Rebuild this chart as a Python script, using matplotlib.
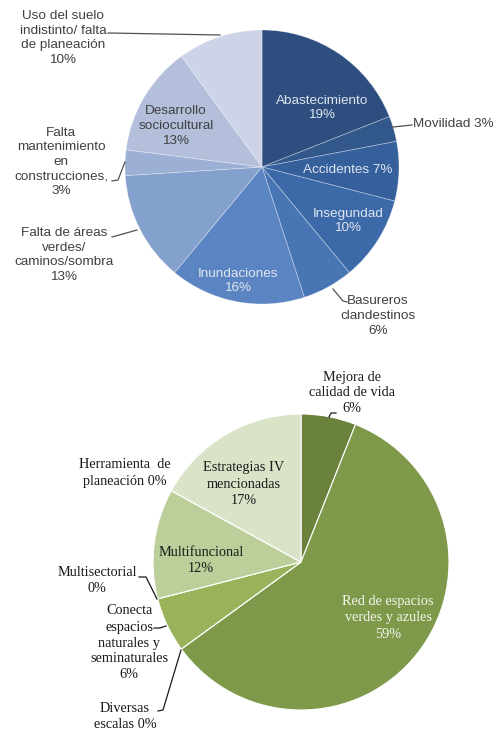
import matplotlib
matplotlib.use("Agg")
import matplotlib.pyplot as plt
import numpy as np

# ---------------- data ----------------
top_labels = ["Abastecimiento", "Movilidad", "Accidentes", "Insegundad",
              "Basureros\nclandestinos", "Inundaciones",
              "Falta de áreas\nverdes/\ncaminos/sombra",
              "Falta\nmantenimiento\nen\nconstrucciones,",
              "Desarrollo\nsociocultural",
              "Uso del suelo\nindistinto/ falta\nde planeación"]
top_values = [19, 3, 7, 10, 6, 16, 13, 3, 13, 10]

bot_labels = ["Mejora de\ncalidad de vida", "Red de espacios\nverdes y azules",
              "Diversas\nescalas", "Conecta\nespacios\nnaturales y\nseminaturales",
              "Multisectorial", "Multifuncional", "Herramienta  de\nplaneación",
              "Estrategias IV\nmencionadas"]
bot_values = [6, 59, 0, 6, 0, 12, 0, 17]

# ---------------- styles ----------------
top_colors = ["#2d4e7e", "#31578b", "#35609c", "#3c69a8", "#4876b5",
              "#5b84c2", "#84a0cc", "#9cafd4", "#b3bfdb", "#cdd4e7"]
bot_colors = ["#6b823c", "#7e9949", "#7e9949", "#9ab35a", "#9ab35a",
              "#bccf9a", "#bccf9a", "#d8e3c7"]

W, H = 500, 735
fig = plt.figure(figsize=(W / 100, H / 100), dpi=100)
fig.patch.set_facecolor("white")


def set_lims(ax, cx, cy, r):
    ax.set_aspect("auto")
    ax.set_xlim(-cx / r, (W - cx) / r)
    ax.set_ylim((cy - H) / r, cy / r)
    ax.axis("off")


def px(ax_c, p):
    cx, cy, r = ax_c
    return ((p[0] - cx) / r, (cy - p[1]) / r)


# ---------------- top pie ----------------
T = (262, 167, 137)
ax1 = fig.add_axes([0, 0, 1, 1])
ax1.pie(top_values, colors=top_colors, startangle=90, counterclock=False,
        radius=1, wedgeprops=dict(edgecolor=(1, 1, 1, 0.35), linewidth=0.6))
set_lims(ax1, *T)

sans = "Liberation Sans"
tfs = 9.7
dark = "#404040"
light = "#dfe5f0"
top_text_pos = [(322, 108), (413, 124), (348, 170), (348, 221), (378, 316),
                (238, 281), (64, 255), (61, 162), (176, 126), (63, 38)]
top_text_col = [light, dark, light, light, dark, light, dark, dark, dark, dark]
top_ha = ["center", "left", "center", "center", "center", "center",
          "center", "center", "center", "center"]
for lab, v, p, c, ha in zip(top_labels, top_values, top_text_pos, top_text_col, top_ha):
    if lab.startswith("Movilidad") or lab.startswith("Accidentes"):
        s = f"{lab} {v}%"
    else:
        s = f"{lab}\n{v}%"
    x, y = px(T, p)
    ax1.text(x, y, s, ha=ha, va="center", fontsize=tfs, color=c,
             family=sans, linespacing=1.3)

top_leaders = [
    [(393, 127), (412, 125)],                  # Movilidad
    [(333, 289), (343, 301), (347, 302)],      # Basureros
    [(137, 230), (112, 237)],                  # Falta de areas
    [(125, 162), (118, 180), (112, 181)],      # Falta mantenimiento
    [(220, 35), (108, 33)],                    # Uso del suelo
]
for ln in top_leaders:
    pts = np.array([px(T, p) for p in ln])
    ax1.plot(pts[:, 0], pts[:, 1], color="#505050", lw=0.9)
set_lims(ax1, *T)

# ---------------- bottom pie ----------------
B = (301, 562, 148)
ax2 = fig.add_axes([0, 0, 1, 1])
ax2.pie(bot_values, colors=bot_colors, startangle=90, counterclock=False,
        radius=1, wedgeprops=dict(edgecolor="white", linewidth=0.8))
set_lims(ax2, *B)

serif = "Liberation Serif"
bfs = 10.3
bot_text_pos = [(352, 393), (388, 618), (125, 716), (129, 643), (97, 581),
                (201, 561), (125, 473), (244, 484)]
bot_text_col = ["#1a1a1a", "#f4f6ee", "#1a1a1a", "#1a1a1a", "#1a1a1a",
                "#1a1a1a", "#1a1a1a", "#1a1a1a"]
for lab, v, p, c in zip(bot_labels, bot_values, bot_text_pos, bot_text_col):
    if lab.startswith("Diversas") or lab.startswith("Herramienta"):
        s = f"{lab} {v}%"
    else:
        s = f"{lab}\n{v}%"
    x, y = px(B, p)
    ax2.text(x, y, s, ha="center", va="center", fontsize=bfs, color=c,
             family=serif, linespacing=1.3)

bot_leaders = [
    [(329, 417), (331, 413), (336, 413)],       # Mejora
    [(181, 650), (163, 710), (158, 711)],       # Diversas
    [(166, 626), (160, 628), (154, 628)],       # Conecta
    [(157, 599), (146, 577), (139, 577)],       # Multisectorial
]
for ln in bot_leaders:
    pts = np.array([px(B, p) for p in ln])
    ax2.plot(pts[:, 0], pts[:, 1], color="#1a1a1a", lw=0.9)
set_lims(ax2, *B)

fig.savefig("out.png", dpi=100, facecolor="white")
